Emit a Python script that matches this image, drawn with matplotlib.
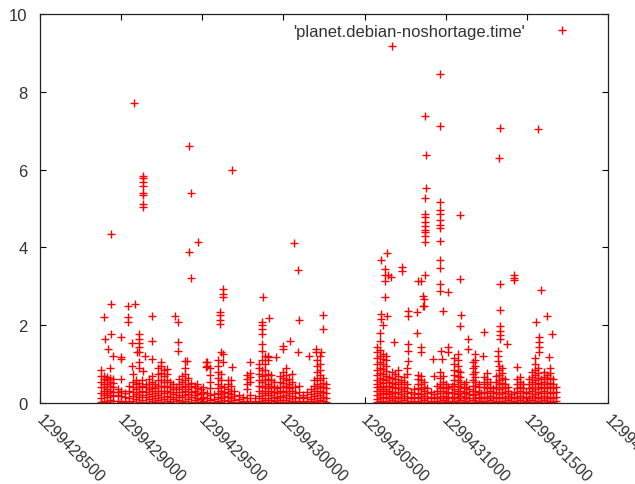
import numpy as np
import matplotlib
matplotlib.use("Agg")
import matplotlib.pyplot as plt
from matplotlib.transforms import ScaledTranslation

plt.rcParams['font.family'] = ['Liberation Sans', 'DejaVu Sans']

# timestamps are stored as seconds after T0
T0 = 1299428000

# x ticks / y ticks as gnuplot drew them
x_ticks = [1299428500, 1299429000, 1299429500, 1299430000,
           1299430500, 1299431000, 1299431500, 1299432000]
y_ticks = [0, 2, 4, 6, 8, 10]

# dense band of short runs, first session: one time per column, several values each
band1_t = [874, 893, 911, 930, 948, 979, 997, 1022, 1046, 1071, 1089, 1108, 1126, 1151,
           1169, 1188, 1206, 1225, 1243, 1261, 1280, 1298, 1317, 1341, 1359, 1378, 1396,
           1415, 1433, 1452, 1470, 1489, 1507, 1531, 1550, 1574, 1599, 1617, 1636, 1660,
           1679, 1697, 1728, 1753, 1777, 1796, 1826, 1851, 1869, 1888, 1906, 1924, 1943,
           1961, 1980, 1998, 2017, 2035, 2053, 2072, 2096, 2121, 2146, 2170, 2189, 2207,
           2225, 2244, 2262]
band1_v = [
    [0.02, 0.12, 0.25, 0.4, 0.55, 0.7, 0.85],
    [0.05, 0.2, 0.3, 0.42, 0.5, 0.62, 0.7],
    [0.02, 0.15, 0.25, 0.35, 0.48, 0.6, 0.68],
    [0.08, 0.2, 0.3, 0.45, 0.55, 0.65, 0.9],
    [0.04, 0.18, 0.28, 0.4, 0.52, 0.62],
    [0.05, 0.2, 0.28, 0.35],
    [0.02, 0.18, 0.3, 0.62],
    [0.05, 0.15, 0.25],
    [0.02, 0.12, 0.3, 0.45],
    [0.05, 0.18, 0.28, 0.4, 0.55, 0.75],
    [0.1, 0.22, 0.35, 0.48, 0.6],
    [0.03, 0.15, 0.28, 0.42, 0.52, 0.9, 1.05],
    [0.08, 0.2, 0.32, 0.45, 0.58],
    [0.02, 0.15, 0.28, 0.4, 0.5],
    [0.1, 0.22, 0.35, 0.48, 0.62],
    [0.05, 0.18, 0.3, 0.42, 0.55, 0.7],
    [0.02, 0.12, 0.25, 0.38, 0.5],
    [0.08, 0.2, 0.32, 0.45, 0.6, 0.75, 0.9],
    [0.03, 0.15, 0.3, 0.45, 0.6, 0.78, 0.95, 1.05],
    [0.1, 0.25, 0.4, 0.55, 0.7, 0.85],
    [0.05, 0.18, 0.3, 0.45, 0.6, 0.75, 0.88],
    [0.02, 0.15, 0.28, 0.42, 0.55],
    [0.1, 0.22, 0.35, 0.5],
    [0.05, 0.15, 0.28, 0.4],
    [0.08, 0.2, 0.35, 0.48, 0.62],
    [0.02, 0.15, 0.28, 0.42, 0.55, 0.7],
    [0.05, 0.2, 0.32, 0.45, 0.6, 0.75, 0.9, 1.08],
    [0.1, 0.22, 0.35, 0.5, 0.65],
    [0.03, 0.15, 0.28, 0.4, 0.52],
    [0.08, 0.2, 0.32, 0.45],
    [0.02, 0.12, 0.25, 0.38, 0.5],
    [0.1, 0.22, 0.35],
    [0.05, 0.15, 0.28, 0.4],
    [0.02, 0.12, 0.25, 0.95, 1.05],
    [0.08, 0.2, 0.38, 0.55, 0.72, 0.9],
    [0.02, 0.1, 0.22],
    [0.05, 0.15, 0.25, 0.38, 0.5, 0.65, 0.8, 0.95, 1.1],
    [0.02, 0.12, 0.22, 0.32, 0.45, 0.6, 0.75, 1.3],
    [0.08, 0.18, 0.28, 0.4],
    [0.05, 0.15, 0.25, 0.35, 0.48, 0.6],
    [0.02, 0.12, 0.22, 0.32, 0.45, 0.58],
    [0.08, 0.18, 0.3],
    [0.02, 0.1, 0.2],
    [0.05, 0.15],
    [0.02, 0.12, 0.35, 0.5, 0.62, 0.72],
    [0.05, 0.2, 0.55, 0.68, 0.78],
    [0.03, 0.12],
    [0.05, 0.18, 0.3, 0.45, 0.6, 0.75, 0.9, 1.0],
    [0.02, 0.12, 0.25, 0.4, 0.55, 0.7, 0.85, 1.1],
    [0.08, 0.2, 0.32, 0.45, 0.58, 0.72, 0.85, 1.0, 1.2],
    [0.02, 0.12, 0.25, 0.38, 0.5, 0.62, 0.75, 1.1, 1.2],
    [0.08, 0.2, 0.32, 0.45, 0.58, 0.72],
    [0.05, 0.15, 0.28, 0.4, 0.55],
    [0.02, 0.12, 0.25, 0.38],
    [0.08, 0.18, 0.3, 0.42, 0.55, 0.7],
    [0.03, 0.15, 0.28, 0.4, 0.52, 0.65, 0.8],
    [0.08, 0.2, 0.32, 0.45, 0.58, 0.72, 0.9],
    [0.02, 0.12, 0.25, 0.38, 0.5, 0.62],
    [0.05, 0.18, 0.3, 0.42, 0.55, 0.75],
    [0.02, 0.12, 0.25, 0.4],
    [0.05, 0.15, 0.28, 0.45],
    [0.02, 0.12, 0.2],
    [0.05, 0.15, 0.28],
    [0.02, 0.1, 0.22, 0.35],
    [0.05, 0.18, 0.3, 0.45, 0.6],
    [0.02, 0.12, 0.25, 0.38, 0.5, 0.65, 0.8, 0.95, 1.1],
    [0.08, 0.2, 0.32, 0.45, 0.58, 0.72, 0.85, 1.0, 1.2],
    [0.05, 0.15, 0.28, 0.4, 0.52, 0.65],
    [0.02, 0.12, 0.25, 0.38, 0.5],
]

# dense band, second session
band2_t = [2575, 2594, 2612, 2631, 2649, 2667, 2686, 2704, 2723, 2741, 2759, 2784, 2802,
           2827, 2845, 2864, 2882, 2907, 2925, 2944, 2962, 2981, 2999, 3017, 3036, 3054,
           3073, 3091, 3110, 3128, 3146, 3165, 3183, 3202, 3220, 3238, 3257, 3275, 3294,
           3312, 3331, 3349, 3368, 3386, 3404, 3423, 3441, 3460, 3478, 3496, 3515, 3533,
           3552, 3570, 3588, 3607, 3625, 3644, 3662, 3681]
band2_v = [
    [0.02, 0.1, 0.2, 0.3, 0.4, 0.5, 0.6, 0.72, 0.85, 1.0, 1.15, 1.3, 1.45],
    [0.05, 0.15, 0.25, 0.35, 0.45, 0.55, 0.65, 0.78, 0.9, 1.05, 1.2, 1.35, 1.6, 1.8],
    [0.02, 0.12, 0.22, 0.32, 0.42, 0.52, 0.62, 0.75, 0.88, 1.0, 1.12, 1.25, 2.0],
    [0.05, 0.15, 0.25, 0.35, 0.45, 0.58, 0.7, 0.82, 0.95, 1.1, 1.22],
    [0.02, 0.12, 0.22, 0.32, 0.45, 0.55, 0.68],
    [0.08, 0.18, 0.28, 0.4, 0.52, 0.65, 0.8],
    [0.02, 0.12, 0.25, 0.38, 0.5, 0.62, 0.75],
    [0.05, 0.15, 0.28, 0.4, 0.55, 0.7, 0.85],
    [0.02, 0.12, 0.22, 0.35, 0.48, 0.6],
    [0.08, 0.18, 0.3, 0.42, 0.55, 0.68],
    [0.02, 0.12, 0.25, 0.38, 0.5, 0.75, 0.9],
    [0.05, 0.15, 0.28],
    [0.02, 0.12, 0.22, 0.35],
    [0.05, 0.15, 0.25, 0.38, 0.5, 0.62, 0.72],
    [0.02, 0.12, 0.22, 0.35, 0.48, 0.6, 0.7],
    [0.08, 0.18, 0.3, 0.42, 0.55],
    [0.02, 0.12, 0.25, 0.38],
    [0.05, 0.15, 0.28],
    [0.02, 0.12, 0.22, 0.7],
    [0.05, 0.15, 0.3, 0.45],
    [0.02, 0.12, 0.25, 0.38, 0.5, 0.65, 0.8],
    [0.08, 0.18, 0.3, 0.42, 0.55, 0.7],
    [0.02, 0.12, 0.25, 0.38, 0.5],
    [0.05, 0.15, 0.28, 0.4],
    [0.02, 0.12, 0.25, 0.45],
    [0.05, 0.15, 0.25, 0.35, 0.48, 0.6, 0.72, 0.85, 1.0, 1.15],
    [0.02, 0.12, 0.22, 0.32, 0.45, 0.58, 0.7, 0.82, 0.95, 1.1, 1.25],
    [0.08, 0.18, 0.3, 0.42, 0.55, 0.68, 0.8],
    [0.02, 0.12, 0.25, 0.38, 0.5],
    [0.05, 0.15, 0.28, 0.4, 0.55],
    [0.02, 0.12, 0.22, 0.35],
    [0.08, 0.2, 0.32, 0.45, 0.6, 0.75, 0.9, 1.05],
    [0.02, 0.12, 0.22, 0.32, 0.45, 0.55, 0.68, 0.8, 0.95, 1.1, 1.25],
    [0.05, 0.15, 0.28, 0.4, 0.5],
    [0.02, 0.12, 0.25],
    [0.05, 0.15, 0.28, 0.4, 0.55, 0.68],
    [0.02, 0.12, 0.25, 0.38, 0.5, 0.62, 0.78],
    [0.08, 0.18, 0.3, 0.42, 0.55],
    [0.02, 0.12, 0.25, 0.38],
    [0.05, 0.15, 0.28, 0.4, 0.55, 0.7],
    [0.02, 0.12, 0.22, 0.35, 0.48, 0.6, 0.72, 0.85, 0.95],
    [0.05, 0.15, 0.28, 0.4, 0.52, 0.65, 0.78, 0.9],
    [0.02, 0.12, 0.25, 0.38, 0.5, 0.62],
    [0.08, 0.18, 0.3, 0.42],
    [0.02, 0.12, 0.22],
    [0.05, 0.15, 0.28],
    [0.02, 0.12, 0.25, 0.38, 0.5, 0.62],
    [0.08, 0.18, 0.3, 0.42, 0.55, 0.68],
    [0.02, 0.12, 0.25, 0.38, 0.5],
    [0.05, 0.15, 0.28],
    [0.02, 0.12, 0.25, 0.38, 0.5, 0.62],
    [0.08, 0.18, 0.3, 0.42, 0.55, 0.68, 0.8],
    [0.02, 0.12, 0.22, 0.35, 0.48, 0.6, 0.72, 0.85, 1.0, 1.15],
    [0.05, 0.15, 0.28, 0.4, 0.52, 0.65, 0.78, 0.9],
    [0.02, 0.12, 0.25, 0.38, 0.5, 0.62],
    [0.08, 0.18, 0.3, 0.42, 0.55, 0.68, 0.8],
    [0.02, 0.12, 0.25, 0.38, 0.5, 0.62, 0.72],
    [0.05, 0.15, 0.28, 0.4, 0.52, 0.65, 0.78, 0.9],
    [0.02, 0.12, 0.25, 0.38, 0.5, 0.62],
    [0.05, 0.15, 0.28, 0.4],
]

# slow runs standing out above the band, first session
slow1_t = [893, 936, 936, 899, 997, 917, 948, 997, 997, 936,
           1040, 1083, 1040, 1040, 1077,
           1132, 1132, 1132, 1132, 1132, 1132, 1132, 1132,
           1108, 1108, 1108, 1108, 1108, 1065, 1188, 1096, 1145, 1188, 1065, 1132,
           1188, 1329, 1353, 1353, 1353, 1403,
           1421, 1433, 1476, 1421, 1433,
           1525, 1525,
           1685, 1630, 1630, 1630, 1611, 1611, 1611, 1611, 1630, 1630, 1685, 1796,
           1875, 1912, 1869, 1869, 1869, 1869, 1869, 1869,
           2066, 2090, 2096, 2244, 2244,
           1906, 1955, 1998, 1998, 2041, 2090, 2158, 2201, 2201, 2232]
slow1_v = [2.21, 2.55, 1.77, 1.65, 1.70, 1.39, 1.2, 1.18, 1.13, 4.34,
           2.49, 2.55, 2.21, 2.08, 7.71,
           5.84, 5.78, 5.68, 5.58, 5.40, 5.35, 5.12, 5.04,
           1.77, 1.65, 1.55, 1.45, 1.31, 1.54, 1.59, 1.31, 1.21, 1.13, 0.95, 0.82,
           2.24, 2.24, 2.08, 1.57, 1.34, 1.08,
           6.61, 5.40, 4.14, 3.88, 3.21,
           1.05, 0.93,
           5.99, 2.93, 2.80, 2.72, 2.34, 2.26, 2.13, 2.03, 1.26, 1.05, 0.93, 1.05,
           2.72, 2.18, 2.08, 2.0, 1.9, 1.77, 1.52, 1.34,
           4.11, 3.42, 2.13, 2.26, 1.90,
           1.18, 1.18, 1.47, 1.39, 1.59, 1.31, 1.21, 1.4, 1.3, 1.3]

# slow runs, second session
slow2_t = [2667, 2962, 2870, 2962, 2876, 2876, 2870,
           2870, 2870, 2870, 2870, 2870, 2870, 2870, 2870,
           2962, 2962, 2962, 2962, 2962, 2962, 2962, 3085,
           2600, 2637, 2625, 2625, 2625, 2661, 2643, 2729, 2729,
           2870, 2827, 2845, 2962, 2962, 2962, 2962, 3017, 3085,
           2625, 2858, 2858, 2981, 3097, 3091, 2600, 2600, 2637, 2766, 2766, 2821, 2821,
           2680, 3140,
           2766, 2766, 2766, 2845, 2845, 2864, 2864, 2968, 3017, 3017, 2919, 2974,
           3337, 3570, 3331,
           3337, 3423, 3423, 3423, 3588, 3337, 3337, 3337, 3337, 3337, 3238, 3380,
           3324, 3324, 3324, 3625, 3558, 3656, 3576, 3576, 3576, 3576, 3638, 3441, 3232, 3140]
slow2_v = [9.18, 8.46, 7.38, 7.12, 6.38, 5.53, 5.27,
           4.86, 4.77, 4.65, 4.55, 4.45, 4.40, 4.30, 4.14,
           5.17, 4.97, 4.86, 4.71, 4.57, 4.50, 4.16, 4.83,
           3.68, 3.86, 3.44, 3.28, 3.14, 3.24, 3.3, 3.50, 3.39,
           3.29, 3.14, 3.14, 3.68, 3.47, 3.06, 2.88, 2.85, 3.19,
           2.72, 2.75, 2.49, 2.37, 2.26, 1.98, 2.3, 2.15, 2.24, 2.37, 2.24, 2.34, 1.80,
           1.57, 1.65,
           1.52, 1.34, 1.08, 1.44, 1.3, 2.67, 2.49, 1.34, 1.44, 1.3, 1.13, 1.13,
           7.06, 7.05, 6.3,
           3.06, 3.3, 3.22, 3.15, 2.9, 2.4, 1.98, 1.85, 1.75, 1.65, 1.82, 1.52,
           1.34, 1.21, 1.08, 2.24, 2.08, 1.77, 1.70, 1.57, 1.44, 1.31, 1.18, 0.93, 1.21, 1.4]

# flatten the banded columns and join everything into one series
times = []
values = []
for col_t, col_v in zip(band1_t + band2_t, band1_v + band2_v):
    times += [col_t] * len(col_v)
    values += col_v
times += slow1_t + slow2_t
values += slow1_v + slow2_v
times = T0 + np.array(times)
values = np.array(values)

fig = plt.figure(figsize=(6.35, 4.85), dpi=100)
ax = fig.add_axes([0.063, 0.167, 0.8945, 0.802])

ax.plot(times, values, linestyle='none', marker='+', color='#ff0000',
        markersize=6, markeredgewidth=1.0, label="'planet.debian-noshortage.time'")

ax.set_xlim(x_ticks[0], x_ticks[-1])
ax.set_ylim(0, 10)
ax.set_xticks(x_ticks)
ax.set_xticklabels([str(t) for t in x_ticks], rotation=-45, ha='left', va='top',
                   rotation_mode='anchor', fontsize=11.5)
ax.set_yticks(y_ticks)
ax.set_yticklabels([str(v) for v in y_ticks], fontsize=12)
ax.tick_params(direction='in', top=True, right=True, length=4, width=0.8,
               labelcolor='#333333', pad=9)
ax.tick_params(axis='x', pad=6)
# nudge the slanted labels right so they start at their tick, like gnuplot
shift = ScaledTranslation(4 / 100, 0, fig.dpi_scale_trans)
for lab in ax.get_xticklabels():
    lab.set_transform(lab.get_transform() + shift)
for side in ax.spines.values():
    side.set_linewidth(0.9)
    side.set_color('#222222')

ax.legend(loc='upper right', bbox_to_anchor=(0.949, 0.975), frameon=False,
          markerfirst=False, numpoints=1, fontsize=12, handlelength=2,
          handletextpad=1.27, borderpad=0, borderaxespad=0, labelcolor='#333333')

fig.savefig('out.png', dpi=100)
